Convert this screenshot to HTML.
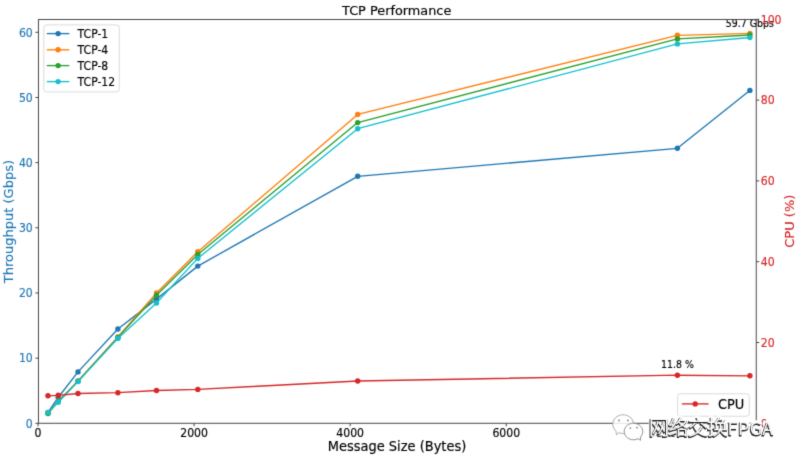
<!DOCTYPE html>
<html><head><meta charset="utf-8"><title>TCP Performance</title>
<style>
html,body{margin:0;padding:0;background:#fff;}
body{width:798px;height:463px;overflow:hidden;}
#wrap{width:798px;height:463px;will-change:transform;}
svg{display:block;font-family:'DejaVu Sans', 'Liberation Sans', sans-serif;}
</style></head><body><div id="wrap">
<svg width="798" height="463" viewBox="0 0 798 463">
<defs><filter id="bl" x="0" y="0" width="798" height="463" filterUnits="userSpaceOnUse" color-interpolation-filters="sRGB"><feConvolveMatrix order="3" kernelMatrix="1 6 1 6 36 6 1 6 1" edgeMode="duplicate"/></filter></defs>
<g filter="url(#bl)">
<rect width="798" height="463" fill="#fff"/>
<text transform="translate(396.70,14.60)" font-size="12.85" text-anchor="middle" fill="#000" stroke="#000" stroke-width="0.15">TCP Performance</text>
<polyline points="48.00,412.50 58.20,397.50 78.00,371.90 117.90,329.00 156.50,299.10 197.80,266.10 357.70,176.30 677.40,148.30 749.90,90.40" fill="none" stroke="#1f77b4" stroke-width="1.35" stroke-linejoin="round" stroke-linecap="square"/><circle cx="48.00" cy="412.50" r="2.7" fill="#1f77b4"/><circle cx="58.20" cy="397.50" r="2.7" fill="#1f77b4"/><circle cx="78.00" cy="371.90" r="2.7" fill="#1f77b4"/><circle cx="117.90" cy="329.00" r="2.7" fill="#1f77b4"/><circle cx="156.50" cy="299.10" r="2.7" fill="#1f77b4"/><circle cx="197.80" cy="266.10" r="2.7" fill="#1f77b4"/><circle cx="357.70" cy="176.30" r="2.7" fill="#1f77b4"/><circle cx="677.40" cy="148.30" r="2.7" fill="#1f77b4"/><circle cx="749.90" cy="90.40" r="2.7" fill="#1f77b4"/>
<polyline points="48.00,413.20 58.20,401.30 78.00,381.00 117.90,337.00 156.50,292.90 197.80,251.70 357.70,114.40 677.40,35.30 749.90,33.40" fill="none" stroke="#ff7f0e" stroke-width="1.35" stroke-linejoin="round" stroke-linecap="square"/><circle cx="48.00" cy="413.20" r="2.7" fill="#ff7f0e"/><circle cx="58.20" cy="401.30" r="2.7" fill="#ff7f0e"/><circle cx="78.00" cy="381.00" r="2.7" fill="#ff7f0e"/><circle cx="117.90" cy="337.00" r="2.7" fill="#ff7f0e"/><circle cx="156.50" cy="292.90" r="2.7" fill="#ff7f0e"/><circle cx="197.80" cy="251.70" r="2.7" fill="#ff7f0e"/><circle cx="357.70" cy="114.40" r="2.7" fill="#ff7f0e"/><circle cx="677.40" cy="35.30" r="2.7" fill="#ff7f0e"/><circle cx="749.90" cy="33.40" r="2.7" fill="#ff7f0e"/>
<polyline points="48.00,413.60 58.20,401.60 78.00,381.20 117.90,337.40 156.50,295.30 197.80,254.40 357.70,122.60 677.40,38.90 749.90,35.00" fill="none" stroke="#2ca02c" stroke-width="1.35" stroke-linejoin="round" stroke-linecap="square"/><circle cx="48.00" cy="413.60" r="2.7" fill="#2ca02c"/><circle cx="58.20" cy="401.60" r="2.7" fill="#2ca02c"/><circle cx="78.00" cy="381.20" r="2.7" fill="#2ca02c"/><circle cx="117.90" cy="337.40" r="2.7" fill="#2ca02c"/><circle cx="156.50" cy="295.30" r="2.7" fill="#2ca02c"/><circle cx="197.80" cy="254.40" r="2.7" fill="#2ca02c"/><circle cx="357.70" cy="122.60" r="2.7" fill="#2ca02c"/><circle cx="677.40" cy="38.90" r="2.7" fill="#2ca02c"/><circle cx="749.90" cy="35.00" r="2.7" fill="#2ca02c"/>
<polyline points="48.00,412.60 58.20,402.20 78.00,381.60 117.90,338.40 156.50,303.00 197.80,258.40 357.70,128.70 677.40,43.90 749.90,37.60" fill="none" stroke="#17becf" stroke-width="1.35" stroke-linejoin="round" stroke-linecap="square"/><circle cx="48.00" cy="412.60" r="2.7" fill="#17becf"/><circle cx="58.20" cy="402.20" r="2.7" fill="#17becf"/><circle cx="78.00" cy="381.60" r="2.7" fill="#17becf"/><circle cx="117.90" cy="338.40" r="2.7" fill="#17becf"/><circle cx="156.50" cy="303.00" r="2.7" fill="#17becf"/><circle cx="197.80" cy="258.40" r="2.7" fill="#17becf"/><circle cx="357.70" cy="128.70" r="2.7" fill="#17becf"/><circle cx="677.40" cy="43.90" r="2.7" fill="#17becf"/><circle cx="749.90" cy="37.60" r="2.7" fill="#17becf"/>
<text transform="translate(749.80,26.70) scale(1,1.05)" font-size="9.4" text-anchor="middle" fill="#000" stroke="#000" stroke-width="0.15">59.7 Gbps</text>
<rect x="43.8" y="24.9" width="75.5" height="67.0" rx="2.8" fill="#fff" fill-opacity="0.8" stroke="#d6d6d6" stroke-width="0.9"/>
<line x1="46.8" y1="33.6" x2="69.3" y2="33.6" stroke="#1f77b4" stroke-width="1.35"/>
<circle cx="58.1" cy="33.6" r="2.7" fill="#1f77b4"/>
<text transform="translate(77.60,37.55) scale(1,1.09)" font-size="10.85" fill="#000" stroke="#000" stroke-width="0.15">TCP-1</text>
<line x1="46.8" y1="49.8" x2="69.3" y2="49.8" stroke="#ff7f0e" stroke-width="1.35"/>
<circle cx="58.1" cy="49.8" r="2.7" fill="#ff7f0e"/>
<text transform="translate(77.60,53.75) scale(1,1.09)" font-size="10.85" fill="#000" stroke="#000" stroke-width="0.15">TCP-4</text>
<line x1="46.8" y1="65.6" x2="69.3" y2="65.6" stroke="#2ca02c" stroke-width="1.35"/>
<circle cx="58.1" cy="65.6" r="2.7" fill="#2ca02c"/>
<text transform="translate(77.60,69.55) scale(1,1.09)" font-size="10.85" fill="#000" stroke="#000" stroke-width="0.15">TCP-8</text>
<line x1="46.8" y1="81.6" x2="69.3" y2="81.6" stroke="#17becf" stroke-width="1.35"/>
<circle cx="58.1" cy="81.6" r="2.7" fill="#17becf"/>
<text transform="translate(77.60,85.55) scale(1,1.09)" font-size="10.85" fill="#000" stroke="#000" stroke-width="0.15">TCP-12</text>
<polyline points="48.00,395.80 58.20,395.30 78.00,393.50 117.90,392.70 156.50,390.50 197.80,389.40 357.70,381.00 677.40,375.20 749.90,375.80" fill="none" stroke="#d62728" stroke-width="1.35" stroke-linejoin="round" stroke-linecap="square"/><circle cx="48.00" cy="395.80" r="2.7" fill="#d62728"/><circle cx="58.20" cy="395.30" r="2.7" fill="#d62728"/><circle cx="78.00" cy="393.50" r="2.7" fill="#d62728"/><circle cx="117.90" cy="392.70" r="2.7" fill="#d62728"/><circle cx="156.50" cy="390.50" r="2.7" fill="#d62728"/><circle cx="197.80" cy="389.40" r="2.7" fill="#d62728"/><circle cx="357.70" cy="381.00" r="2.7" fill="#d62728"/><circle cx="677.40" cy="375.20" r="2.7" fill="#d62728"/><circle cx="749.90" cy="375.80" r="2.7" fill="#d62728"/>
<text transform="translate(677.50,368.00) scale(1,1.05)" font-size="9.4" text-anchor="middle" fill="#000" stroke="#000" stroke-width="0.15">11.8 %</text>
<rect x="677.6" y="393.8" width="71.7" height="22.4" rx="2.6" fill="#fff" fill-opacity="0.8" stroke="#d6d6d6" stroke-width="0.9"/>
<line x1="681.8" y1="403.9" x2="708.6" y2="403.9" stroke="#d62728" stroke-width="1.35"/>
<circle cx="695.2" cy="403.9" r="2.7" fill="#d62728"/>
<text transform="translate(717.90,408.90) scale(1,1.02)" font-size="13" fill="#000" stroke="#000" stroke-width="0.15">CPU</text>
<rect x="38.45" y="19.5" width="717.80" height="403.80" fill="none" stroke="#484848" stroke-width="1.0"/>
<line x1="35.45" y1="423.30" x2="38.45" y2="423.30" stroke="#444" stroke-width="1.0"/>
<text transform="translate(32.80,427.63) scale(1,1.09)" font-size="10.9" text-anchor="end" fill="#1f77b4" stroke="#1f77b4" stroke-width="0.15">0</text>
<line x1="35.45" y1="358.13" x2="38.45" y2="358.13" stroke="#444" stroke-width="1.0"/>
<text transform="translate(32.80,362.46) scale(1,1.09)" font-size="10.9" text-anchor="end" fill="#1f77b4" stroke="#1f77b4" stroke-width="0.15">10</text>
<line x1="35.45" y1="292.97" x2="38.45" y2="292.97" stroke="#444" stroke-width="1.0"/>
<text transform="translate(32.80,297.30) scale(1,1.09)" font-size="10.9" text-anchor="end" fill="#1f77b4" stroke="#1f77b4" stroke-width="0.15">20</text>
<line x1="35.45" y1="227.80" x2="38.45" y2="227.80" stroke="#444" stroke-width="1.0"/>
<text transform="translate(32.80,232.13) scale(1,1.09)" font-size="10.9" text-anchor="end" fill="#1f77b4" stroke="#1f77b4" stroke-width="0.15">30</text>
<line x1="35.45" y1="162.63" x2="38.45" y2="162.63" stroke="#444" stroke-width="1.0"/>
<text transform="translate(32.80,166.96) scale(1,1.09)" font-size="10.9" text-anchor="end" fill="#1f77b4" stroke="#1f77b4" stroke-width="0.15">40</text>
<line x1="35.45" y1="97.47" x2="38.45" y2="97.47" stroke="#444" stroke-width="1.0"/>
<text transform="translate(32.80,101.80) scale(1,1.09)" font-size="10.9" text-anchor="end" fill="#1f77b4" stroke="#1f77b4" stroke-width="0.15">50</text>
<line x1="35.45" y1="32.30" x2="38.45" y2="32.30" stroke="#444" stroke-width="1.0"/>
<text transform="translate(32.80,36.63) scale(1,1.09)" font-size="10.9" text-anchor="end" fill="#1f77b4" stroke="#1f77b4" stroke-width="0.15">60</text>
<line x1="756.25" y1="423.30" x2="759.25" y2="423.30" stroke="#444" stroke-width="1.0"/>
<text transform="translate(760.70,427.63) scale(1,1.09)" font-size="10.9" fill="#d62728" stroke="#d62728" stroke-width="0.15">0</text>
<line x1="756.25" y1="342.50" x2="759.25" y2="342.50" stroke="#444" stroke-width="1.0"/>
<text transform="translate(760.70,346.83) scale(1,1.09)" font-size="10.9" fill="#d62728" stroke="#d62728" stroke-width="0.15">20</text>
<line x1="756.25" y1="261.70" x2="759.25" y2="261.70" stroke="#444" stroke-width="1.0"/>
<text transform="translate(760.70,266.03) scale(1,1.09)" font-size="10.9" fill="#d62728" stroke="#d62728" stroke-width="0.15">40</text>
<line x1="756.25" y1="180.90" x2="759.25" y2="180.90" stroke="#444" stroke-width="1.0"/>
<text transform="translate(760.70,185.23) scale(1,1.09)" font-size="10.9" fill="#d62728" stroke="#d62728" stroke-width="0.15">60</text>
<line x1="756.25" y1="100.10" x2="759.25" y2="100.10" stroke="#444" stroke-width="1.0"/>
<text transform="translate(760.70,104.43) scale(1,1.09)" font-size="10.9" fill="#d62728" stroke="#d62728" stroke-width="0.15">80</text>
<line x1="756.25" y1="19.30" x2="759.25" y2="19.30" stroke="#444" stroke-width="1.0"/>
<text transform="translate(760.70,23.63) scale(1,1.09)" font-size="10.9" fill="#d62728" stroke="#d62728" stroke-width="0.15">100</text>
<line x1="38.00" y1="423.3" x2="38.00" y2="426.30" stroke="#444" stroke-width="1.0"/>
<text transform="translate(38.00,436.70) scale(1,1.09)" font-size="10.9" text-anchor="middle" fill="#000" stroke="#000" stroke-width="0.15">0</text>
<line x1="194.08" y1="423.3" x2="194.08" y2="426.30" stroke="#444" stroke-width="1.0"/>
<text transform="translate(194.08,436.70) scale(1,1.09)" font-size="10.9" text-anchor="middle" fill="#000" stroke="#000" stroke-width="0.15">2000</text>
<line x1="350.16" y1="423.3" x2="350.16" y2="426.30" stroke="#444" stroke-width="1.0"/>
<text transform="translate(350.16,436.70) scale(1,1.09)" font-size="10.9" text-anchor="middle" fill="#000" stroke="#000" stroke-width="0.15">4000</text>
<line x1="506.24" y1="423.3" x2="506.24" y2="426.30" stroke="#444" stroke-width="1.0"/>
<text transform="translate(506.24,436.70) scale(1,1.09)" font-size="10.9" text-anchor="middle" fill="#000" stroke="#000" stroke-width="0.15">6000</text>
<line x1="662.32" y1="423.3" x2="662.32" y2="426.30" stroke="#444" stroke-width="1.0"/>
<text transform="translate(662.32,436.70) scale(1,1.09)" font-size="10.9" text-anchor="middle" fill="#000" stroke="#000" stroke-width="0.15">8000</text>
<text transform="translate(397.00,451.20) scale(1,1.02)" font-size="13" text-anchor="middle" fill="#000" stroke="#000" stroke-width="0.15">Message Size (Bytes)</text>
<text transform="translate(13.40,221.60) rotate(-90)" font-size="13" text-anchor="middle" fill="#1f77b4" stroke="#1f77b4" stroke-width="0.15">Throughput (Gbps)</text>
<text transform="translate(793.90,221.20) rotate(-90)" font-size="13" text-anchor="middle" fill="#d62728" stroke="#d62728" stroke-width="0.15">CPU (%)</text>
<g>
<path d="M618.8,432.7 L616.6,434.8 L615.85,430.85 A10.4,9.4 0 1 1 618.8,432.7 Z" fill="#fff" fill-opacity="0.85" stroke="#999" stroke-width="0.8"/>
<path d="M640.62,436.84 L640.5,440.3 L638.15,438.69 A9.3,8.3 0 1 1 640.62,436.84 Z" fill="#fff" stroke="#777" stroke-width="0.8"/>
<g fill="#777">
<circle cx="619" cy="420.4" r="0.85"/>
<circle cx="627.9" cy="420.4" r="0.85"/>
<circle cx="630.4" cy="428" r="0.85"/>
<circle cx="637" cy="427.6" r="0.85"/>
</g>
<text x="648.8" y="435.0" font-size="20.5" letter-spacing="-1.0" fill="#fff" stroke="#fff" stroke-width="3.5" stroke-linejoin="round" font-family="'Noto Sans CJK SC', 'WenQuanYi Zen Hei', sans-serif">网络交换<tspan x="727.6" font-size="17.8" letter-spacing="0.5">FPGA</tspan></text>
<text x="648.3" y="435.5" font-size="20.5" letter-spacing="-1.0" fill="#222" stroke="#222" stroke-width="1.0" stroke-linejoin="round" font-family="'Noto Sans CJK SC', 'WenQuanYi Zen Hei', sans-serif">网络交换<tspan x="727.1" font-size="17.8" letter-spacing="0.5">FPGA</tspan></text>
<text x="648.8" y="435.0" font-size="20.5" letter-spacing="-1.0" fill="#fff" font-family="'Noto Sans CJK SC', 'WenQuanYi Zen Hei', sans-serif">网络交换<tspan x="727.6" font-size="17.8" letter-spacing="0.5">FPGA</tspan></text>
</g>
</g>
</svg>
</div></body></html>
